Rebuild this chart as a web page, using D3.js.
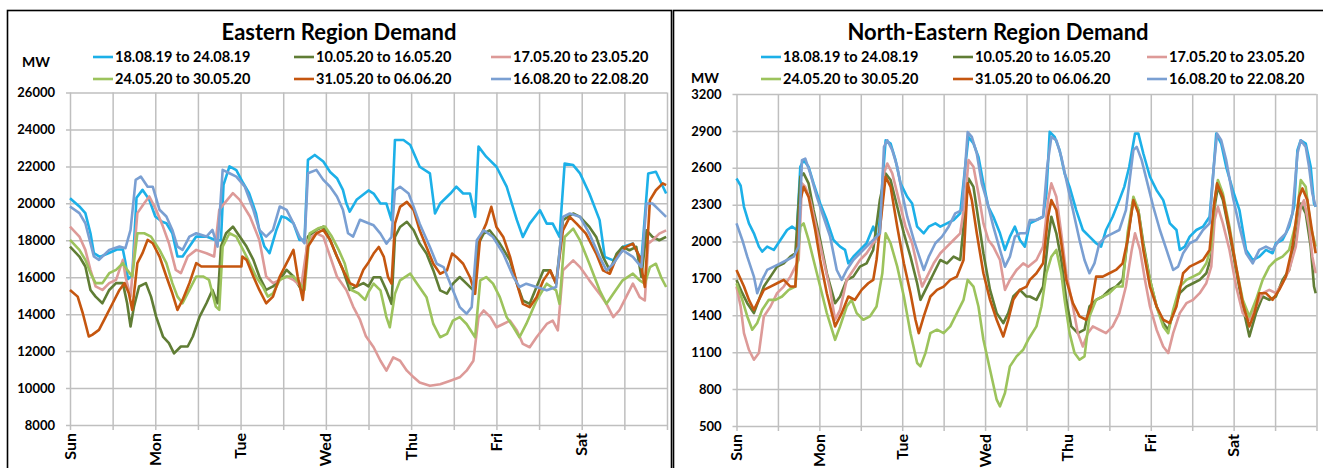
<!DOCTYPE html>
<html><head><meta charset="utf-8">
<script src="https://cdn.jsdelivr.net/npm/d3@7"></script>
<style>
body{margin:0;background:#fff;}
svg{display:block;font-family:Lato,"Open Sans",sans-serif;}
</style></head><body>
<svg id="chart" width="1323" height="468"></svg>
<script>
// ---------- categories / labels ----------
const dayLabels = ["Sun","Mon","Tue","Wed","Thu","Fri","Sat"];
const weekLabels = ["18.08.19 to 24.08.19","10.05.20 to 16.05.20","17.05.20 to 23.05.20",
                    "24.05.20 to 30.05.20","31.05.20 to 06.06.20","16.08.20 to 22.08.20"];
const eastTicks = [8000,10000,12000,14000,16000,18000,20000,22000,24000,26000];
const neTicks = [500,800,1100,1400,1700,2000,2300,2600,2900,3200];

// ---------- Eastern Region series: [day of week, MW] ----------
const east_180819 = [[0,20270],[0.11,19830],[0.18,19470],[0.24,18380],[0.28,17300],[0.35,17100],[0.45,17300],[0.55,17500],[0.62,17500],[0.65,16800],[0.68,15900],[0.73,16100],[0.78,20300],[0.85,20730],[0.93,20190],[1.0,19290],[1.08,19000],[1.13,18920],[1.2,18380],[1.26,17120],[1.32,17120],[1.4,17660],[1.48,18200],[1.6,18200],[1.71,18000],[1.77,18000],[1.8,21000],[1.87,22000],[1.95,21800],[2.03,21100],[2.1,20550],[2.18,19470],[2.22,18560],[2.28,17660],[2.34,17300],[2.42,18560],[2.48,19290],[2.54,19200],[2.62,18920],[2.69,18020],[2.75,18020],[2.79,22350],[2.87,22620],[2.97,22260],[3.05,21700],[3.13,21360],[3.2,20730],[3.24,20000],[3.28,19550],[3.36,20190],[3.5,20700],[3.56,20530],[3.64,19990],[3.71,19990],[3.77,19090],[3.81,23430],[3.91,23430],[3.99,23160],[4.10,21980],[4.22,21620],[4.28,19450],[4.34,19990],[4.46,20530],[4.53,20900],[4.61,20530],[4.69,20530],[4.75,19270],[4.79,23070],[4.88,22525],[5.0,21980],[5.12,20900],[5.24,19090],[5.31,18180],[5.39,18900],[5.51,19630],[5.59,18900],[5.66,18900],[5.74,18180],[5.80,22160],[5.90,22070],[5.98,21620],[6.09,20530],[6.21,19090],[6.27,17100],[6.37,16910],[6.48,17640],[6.60,17820],[6.70,16910],[6.78,21620],[6.87,21710],[6.99,20530]];
const east_100520 = [[0,17660],[0.11,17120],[0.18,16580],[0.24,15310],[0.30,14950],[0.38,14590],[0.46,15310],[0.54,15680],[0.62,15680],[0.67,14590],[0.71,13330],[0.75,14410],[0.81,15500],[0.89,15680],[0.95,14950],[1.01,13870],[1.09,12790],[1.16,12430],[1.22,11880],[1.30,12250],[1.38,12250],[1.44,12790],[1.52,13870],[1.60,14590],[1.67,15310],[1.73,14590],[1.77,17660],[1.83,18380],[1.91,18740],[1.99,18200],[2.07,17660],[2.15,16940],[2.22,16040],[2.30,15310],[2.38,15500],[2.46,15860],[2.54,16400],[2.62,16040],[2.69,15500],[2.73,15130],[2.79,18200],[2.89,18560],[2.97,18740],[3.05,18020],[3.13,17120],[3.20,16400],[3.28,15310],[3.36,15500],[3.44,15680],[3.5,15500],[3.56,16000],[3.64,16000],[3.71,15290],[3.77,14560],[3.81,18180],[3.87,18720],[3.95,19000],[4.03,18540],[4.10,17820],[4.18,17280],[4.26,16370],[4.34,15290],[4.42,15110],[4.49,15650],[4.57,16010],[4.65,15650],[4.73,15290],[4.79,17820],[4.85,18360],[4.92,18540],[5.04,17820],[5.16,16910],[5.24,15650],[5.31,14740],[5.39,14560],[5.47,15470],[5.55,16370],[5.63,16370],[5.70,15650],[5.78,19090],[5.90,19450],[5.98,19270],[6.09,18720],[6.17,18180],[6.25,17100],[6.33,16370],[6.41,17280],[6.48,17640],[6.56,17460],[6.64,17640],[6.70,16010],[6.76,18540],[6.83,18180],[6.91,18000],[6.99,18180]];
const east_170520 = [[0,18740],[0.11,18200],[0.18,17480],[0.24,16400],[0.30,15500],[0.38,15310],[0.46,15680],[0.54,15860],[0.62,16940],[0.65,16040],[0.71,14950],[0.79,19470],[0.87,20000],[0.93,20370],[1.01,19650],[1.09,18740],[1.16,17840],[1.24,16400],[1.30,16220],[1.38,17120],[1.48,17480],[1.60,17300],[1.69,17120],[1.75,19650],[1.81,20000],[1.91,20550],[1.99,20190],[2.11,19290],[2.22,18020],[2.30,16040],[2.38,15680],[2.46,15860],[2.54,16040],[2.62,15860],[2.71,15500],[2.79,18020],[2.89,18380],[2.97,18200],[3.05,17120],[3.13,16040],[3.24,15310],[3.32,14410],[3.40,13700],[3.47,12800],[3.56,12210],[3.64,11480],[3.71,10940],[3.79,11660],[3.87,11480],[3.95,10940],[4.03,10580],[4.10,10300],[4.22,10120],[4.34,10210],[4.46,10400],[4.57,10580],[4.65,10940],[4.73,11480],[4.79,13840],[4.85,14200],[4.93,13840],[5.0,13290],[5.08,13470],[5.16,13650],[5.24,13120],[5.31,12390],[5.39,12210],[5.47,12750],[5.59,13470],[5.66,13650],[5.72,13120],[5.78,16370],[5.90,16910],[5.98,16550],[6.09,15830],[6.21,15100],[6.29,14560],[6.37,13840],[6.44,14200],[6.52,14920],[6.60,15650],[6.68,14920],[6.74,14740],[6.78,17820],[6.83,18000],[6.91,18360],[6.99,18540]];
const east_240520 = [[0,18020],[0.11,17480],[0.18,16940],[0.24,16220],[0.30,15680],[0.38,15680],[0.46,16220],[0.54,16400],[0.62,16760],[0.67,16400],[0.73,16040],[0.79,18380],[0.87,18380],[0.95,18200],[1.05,17480],[1.13,16760],[1.20,15680],[1.26,14950],[1.32,14590],[1.40,15310],[1.48,16040],[1.56,16040],[1.63,15860],[1.71,14410],[1.75,14230],[1.79,17660],[1.87,18380],[1.95,18200],[2.07,17120],[2.18,16040],[2.26,15500],[2.32,14950],[2.38,15130],[2.46,15860],[2.54,16040],[2.62,16040],[2.69,15680],[2.75,15310],[2.81,18380],[2.91,18650],[2.99,18740],[3.07,18200],[3.15,17480],[3.22,16760],[3.30,15310],[3.38,15130],[3.46,14770],[3.5,15200],[3.56,15650],[3.64,15290],[3.71,13840],[3.75,13290],[3.81,15100],[3.87,15830],[3.99,16190],[4.07,15650],[4.18,14920],[4.26,13470],[4.34,12750],[4.42,12930],[4.49,13650],[4.57,13840],[4.65,13470],[4.75,12750],[4.81,15830],[4.88,16010],[4.96,15650],[5.04,14920],[5.12,13840],[5.20,13290],[5.27,12750],[5.35,13470],[5.47,14740],[5.59,15650],[5.70,15290],[5.74,14560],[5.80,18180],[5.90,18630],[5.98,17990],[6.09,16730],[6.21,15290],[6.29,14560],[6.37,15100],[6.48,15830],[6.60,16190],[6.68,15830],[6.74,15650],[6.80,16550],[6.87,16730],[6.93,16010],[6.99,15470]];
const east_310520 = [[0,15310],[0.09,14950],[0.15,14050],[0.22,12790],[0.26,12880],[0.34,13150],[0.42,13870],[0.50,14590],[0.58,15310],[0.64,15680],[0.69,15130],[0.73,14230],[0.79,16760],[0.85,17300],[0.91,18020],[0.97,17840],[1.05,17120],[1.13,16040],[1.20,15130],[1.26,14230],[1.32,14770],[1.40,15680],[1.48,16760],[1.54,16580],[2.01,16580],[2.02,17120],[2.07,16940],[2.15,16040],[2.22,15310],[2.30,14590],[2.38,14950],[2.46,16040],[2.54,16760],[2.62,17480],[2.67,16040],[2.73,14770],[2.79,17660],[2.89,18380],[2.97,18560],[3.05,18020],[3.13,17120],[3.20,16400],[3.28,15680],[3.36,15500],[3.44,16400],[3.5,16800],[3.56,17280],[3.62,17640],[3.68,17100],[3.73,16000],[3.77,15650],[3.81,18900],[3.87,19810],[3.95,20080],[4.03,19630],[4.10,18540],[4.18,17640],[4.26,16730],[4.34,16190],[4.42,16370],[4.48,17280],[4.53,17100],[4.61,16730],[4.69,16000],[4.75,15100],[4.81,18180],[4.88,18900],[4.94,19810],[5.0,18720],[5.08,18180],[5.16,17100],[5.24,15650],[5.31,14560],[5.39,14380],[5.47,14920],[5.55,15830],[5.63,16370],[5.70,15650],[5.78,18540],[5.86,19270],[5.94,18900],[6.05,18360],[6.17,17280],[6.25,16370],[6.33,16190],[6.41,17100],[6.52,17640],[6.60,17820],[6.68,17100],[6.74,15470],[6.80,20170],[6.87,20710],[6.95,21080],[6.99,20990]];
const east_160820 = [[0,19830],[0.11,19470],[0.18,18920],[0.24,17840],[0.28,17120],[0.34,16940],[0.46,17480],[0.58,17660],[0.65,17570],[0.71,18560],[0.77,21270],[0.83,21450],[0.91,20900],[0.97,20900],[1.05,19650],[1.13,19290],[1.20,18560],[1.26,17660],[1.32,17480],[1.40,18200],[1.48,18380],[1.60,18200],[1.67,18560],[1.73,17660],[1.79,21810],[1.87,21630],[1.95,21450],[2.05,20900],[2.15,19650],[2.22,18560],[2.30,18200],[2.38,18560],[2.46,19830],[2.54,19650],[2.62,18920],[2.69,18200],[2.75,17840],[2.79,21630],[2.89,21810],[2.97,21270],[3.05,20900],[3.13,20370],[3.20,19650],[3.26,18380],[3.32,18200],[3.40,19110],[3.5,18920],[3.56,18810],[3.64,18360],[3.71,17820],[3.77,18180],[3.81,20710],[3.87,20900],[3.97,20530],[4.03,19810],[4.10,18900],[4.22,17640],[4.30,16730],[4.38,16550],[4.49,15290],[4.57,14380],[4.65,14020],[4.71,14380],[4.77,18000],[4.85,18540],[4.96,18180],[5.08,17280],[5.20,16010],[5.27,15470],[5.35,15650],[5.47,15470],[5.59,15290],[5.70,15470],[5.78,19270],[5.86,19450],[5.98,19270],[6.09,18360],[6.21,17100],[6.29,16370],[6.37,16730],[6.48,17460],[6.60,17100],[6.70,16550],[6.76,19990],[6.83,19990],[6.91,19630],[6.99,19270]];

// ---------- North-Eastern Region series: [day of week, MW] ----------
const ne_180819 = [[0,2513],[0.05,2455],[0.09,2283],[0.15,2148],[0.21,2067],[0.27,1959],[0.31,1918],[0.37,1959],[0.45,1932],[0.53,2013],[0.61,2094],[0.67,2121],[0.73,2094],[0.77,2608],[0.81,2662],[0.87,2608],[0.93,2473],[1.01,2310],[1.09,2175],[1.17,2013],[1.25,1959],[1.31,1932],[1.35,1823],[1.41,1877],[1.49,1932],[1.57,1986],[1.65,2121],[1.71,2013],[1.76,2473],[1.80,2824],[1.86,2797],[1.92,2662],[1.98,2473],[2.06,2364],[2.12,2310],[2.18,2121],[2.26,2067],[2.32,2121],[2.40,2148],[2.46,2121],[2.54,2148],[2.62,2175],[2.70,2229],[2.76,2608],[2.80,2851],[2.86,2797],[2.92,2689],[2.98,2473],[3.04,2283],[3.10,2202],[3.18,2067],[3.24,1932],[3.30,2040],[3.36,2121],[3.42,2013],[3.48,1959],[3.54,2148],[3.62,2175],[3.70,2202],[3.74,2391],[3.78,2892],[3.84,2851],[3.90,2743],[3.96,2554],[4.02,2445],[4.10,2256],[4.18,2094],[4.26,2040],[4.34,1986],[4.40,1959],[4.46,2094],[4.54,2202],[4.62,2337],[4.68,2445],[4.74,2608],[4.81,2878],[4.85,2878],[4.91,2716],[4.99,2527],[5.07,2418],[5.15,2337],[5.23,2148],[5.31,2094],[5.35,1932],[5.41,1959],[5.47,2040],[5.55,2094],[5.63,2121],[5.71,2202],[5.76,2608],[5.79,2878],[5.85,2797],[5.91,2608],[5.99,2418],[6.07,2256],[6.15,1932],[6.23,1850],[6.31,1877],[6.39,1932],[6.47,1905],[6.51,1986],[6.59,2013],[6.67,2121],[6.73,2283],[6.77,2743],[6.81,2824],[6.87,2797],[6.93,2608],[6.97,2310],[6.99,2283]];
const ne_100520 = [[0,1688],[0.07,1580],[0.13,1499],[0.21,1418],[0.27,1526],[0.33,1634],[0.41,1715],[0.49,1796],[0.57,1823],[0.65,1877],[0.71,1905],[0.77,2527],[0.81,2554],[0.87,2473],[0.93,2256],[1.01,2013],[1.09,1742],[1.19,1499],[1.25,1553],[1.33,1688],[1.41,1715],[1.49,1796],[1.57,1823],[1.65,1932],[1.73,2337],[1.80,2554],[1.86,2500],[1.94,2283],[2.02,2067],[2.10,1877],[2.18,1661],[2.22,1526],[2.30,1634],[2.38,1742],[2.46,1850],[2.54,1823],[2.62,1877],[2.70,1850],[2.76,2256],[2.80,2513],[2.86,2445],[2.92,2175],[2.98,1905],[3.06,1607],[3.14,1418],[3.22,1337],[3.28,1418],[3.34,1553],[3.42,1607],[3.50,1553],[3.54,1553],[3.62,1526],[3.70,1634],[3.76,2013],[3.80,2202],[3.86,2067],[3.92,1850],[3.98,1526],[4.04,1310],[4.12,1255],[4.20,1283],[4.26,1472],[4.34,1526],[4.42,1553],[4.50,1607],[4.58,1634],[4.66,1688],[4.74,2121],[4.79,2337],[4.85,2256],[4.91,1986],[4.99,1688],[5.07,1472],[5.15,1337],[5.21,1283],[5.27,1418],[5.35,1580],[5.43,1634],[5.51,1661],[5.59,1688],[5.67,1742],[5.73,1877],[5.77,2283],[5.81,2445],[5.87,2337],[5.95,2067],[6.03,1769],[6.11,1472],[6.19,1228],[6.27,1418],[6.35,1553],[6.43,1526],[6.51,1553],[6.59,1688],[6.67,1769],[6.75,2013],[6.81,2310],[6.87,2229],[6.93,1959],[6.97,1634],[6.99,1580]];
const ne_170520 = [[0,1634],[0.05,1472],[0.09,1255],[0.15,1120],[0.21,1039],[0.27,1093],[0.33,1391],[0.41,1472],[0.49,1580],[0.57,1634],[0.65,1715],[0.71,1796],[0.75,1850],[0.79,2473],[0.83,2445],[0.89,2337],[0.97,2094],[1.05,1850],[1.13,1607],[1.19,1364],[1.25,1445],[1.33,1688],[1.41,1769],[1.49,1850],[1.57,1905],[1.65,1986],[1.73,2067],[1.78,2554],[1.82,2635],[1.88,2554],[1.96,2337],[2.04,2121],[2.12,1986],[2.20,1742],[2.24,1634],[2.30,1715],[2.38,1823],[2.46,1905],[2.54,1959],[2.62,2013],[2.70,2067],[2.76,2337],[2.80,2662],[2.86,2608],[2.92,2391],[2.98,2148],[3.04,2013],[3.10,1959],[3.18,1850],[3.24,1607],[3.30,1688],[3.38,1769],[3.46,1823],[3.52,1796],[3.62,1850],[3.70,1959],[3.76,2337],[3.80,2473],[3.86,2364],[3.92,2067],[3.98,1742],[4.06,1472],[4.12,1255],[4.18,1147],[4.24,1255],[4.30,1310],[4.38,1283],[4.46,1255],[4.54,1310],[4.62,1418],[4.70,1634],[4.77,1932],[4.81,2067],[4.87,1932],[4.93,1688],[4.99,1472],[5.07,1283],[5.15,1147],[5.21,1093],[5.27,1255],[5.35,1418],[5.43,1499],[5.51,1526],[5.59,1580],[5.67,1661],[5.73,1796],[5.77,2175],[5.81,2283],[5.87,2148],[5.95,1932],[6.03,1634],[6.11,1418],[6.19,1364],[6.27,1472],[6.35,1580],[6.43,1607],[6.51,1580],[6.59,1661],[6.67,1769],[6.75,1959],[6.81,2283],[6.85,2337],[6.91,2121],[6.95,1877],[6.99,1742]];
const ne_240520 = [[0,1661],[0.07,1526],[0.13,1391],[0.19,1283],[0.25,1337],[0.31,1445],[0.39,1526],[0.47,1526],[0.55,1553],[0.63,1607],[0.71,1634],[0.77,2121],[0.81,2148],[0.87,2013],[0.93,1850],[1.01,1634],[1.09,1418],[1.19,1201],[1.25,1310],[1.33,1472],[1.39,1526],[1.45,1418],[1.53,1364],[1.61,1391],[1.69,1472],[1.76,1742],[1.80,2067],[1.86,1986],[1.94,1796],[2.02,1553],[2.10,1255],[2.18,1012],[2.22,985],[2.28,1093],[2.34,1255],[2.42,1283],[2.50,1255],[2.58,1310],[2.66,1418],[2.74,1526],[2.79,1688],[2.86,1634],[2.92,1472],[2.98,1201],[3.06,958],[3.14,714],[3.18,660],[3.24,769],[3.30,985],[3.38,1066],[3.46,1120],[3.52,1201],[3.62,1310],[3.68,1472],[3.74,1742],[3.80,1877],[3.86,1932],[3.92,1742],[3.96,1526],[4.02,1255],[4.08,1093],[4.14,1039],[4.20,1066],[4.26,1391],[4.34,1526],[4.42,1553],[4.50,1580],[4.58,1634],[4.66,1634],[4.72,2067],[4.79,2364],[4.85,2256],[4.91,1959],[4.99,1688],[5.07,1472],[5.15,1310],[5.21,1255],[5.27,1445],[5.35,1634],[5.43,1688],[5.51,1715],[5.59,1742],[5.67,1823],[5.73,1959],[5.77,2337],[5.81,2500],[5.87,2391],[5.95,2121],[6.03,1796],[6.11,1526],[6.19,1391],[6.27,1526],[6.35,1688],[6.43,1796],[6.51,1850],[6.59,1877],[6.67,1932],[6.75,2148],[6.81,2500],[6.87,2445],[6.93,2121],[6.99,1959]];
const ne_310520 = [[0,1769],[0.09,1634],[0.15,1526],[0.21,1445],[0.27,1526],[0.33,1607],[0.41,1634],[0.49,1661],[0.57,1688],[0.65,1634],[0.71,1634],[0.77,2337],[0.81,2445],[0.87,2364],[0.95,2094],[1.01,1850],[1.09,1580],[1.19,1310],[1.27,1418],[1.35,1553],[1.43,1526],[1.51,1607],[1.59,1661],[1.65,1688],[1.69,1850],[1.76,2283],[1.80,2527],[1.86,2445],[1.94,2121],[2.02,1823],[2.10,1580],[2.16,1364],[2.20,1255],[2.26,1391],[2.34,1553],[2.42,1607],[2.50,1634],[2.58,1688],[2.66,1715],[2.74,1850],[2.79,2473],[2.84,2337],[2.90,2067],[2.98,1742],[3.06,1526],[3.14,1364],[3.22,1228],[3.28,1364],[3.34,1526],[3.42,1607],[3.50,1634],[3.54,1688],[3.62,1742],[3.70,1823],[3.76,2202],[3.80,2337],[3.86,2256],[3.92,1986],[3.98,1688],[4.06,1499],[4.14,1391],[4.22,1364],[4.28,1472],[4.34,1715],[4.42,1715],[4.50,1742],[4.58,1769],[4.66,1823],[4.72,2013],[4.79,2337],[4.85,2229],[4.91,1932],[4.99,1634],[5.07,1472],[5.15,1364],[5.23,1337],[5.31,1472],[5.39,1742],[5.47,1796],[5.55,1823],[5.63,1850],[5.71,1932],[5.76,2283],[5.80,2473],[5.87,2364],[5.95,2094],[6.03,1796],[6.11,1499],[6.19,1310],[6.25,1418],[6.31,1580],[6.39,1580],[6.47,1526],[6.55,1607],[6.63,1715],[6.71,1959],[6.79,2364],[6.83,2432],[6.89,2337],[6.95,2067],[6.99,1905]];
const ne_160820 = [[0,2148],[0.07,2013],[0.13,1877],[0.21,1715],[0.25,1580],[0.31,1688],[0.37,1769],[0.45,1796],[0.53,1823],[0.61,1850],[0.69,1877],[0.75,1959],[0.79,2662],[0.83,2675],[0.89,2554],[0.97,2364],[1.05,2202],[1.13,2040],[1.21,1769],[1.27,1688],[1.33,1769],[1.41,1850],[1.49,1905],[1.57,1959],[1.65,2013],[1.73,2067],[1.78,2770],[1.82,2824],[1.88,2743],[1.94,2608],[2.0,2391],[2.06,2202],[2.14,2013],[2.22,1850],[2.26,1769],[2.32,1877],[2.40,1986],[2.48,2040],[2.56,2121],[2.64,2229],[2.72,2256],[2.76,2608],[2.79,2890],[2.84,2851],[2.90,2716],[2.96,2473],[3.02,2337],[3.10,2121],[3.18,1932],[3.24,1796],[3.30,1877],[3.36,2040],[3.42,2067],[3.50,2067],[3.54,2175],[3.62,2175],[3.70,2202],[3.75,2608],[3.80,2851],[3.86,2824],[3.92,2689],[3.98,2500],[4.06,2256],[4.14,2013],[4.20,1850],[4.26,1742],[4.32,1823],[4.38,1986],[4.46,2040],[4.54,2067],[4.62,2094],[4.70,2256],[4.79,2743],[4.83,2770],[4.89,2662],[4.95,2500],[5.03,2283],[5.11,2094],[5.19,1932],[5.27,1769],[5.33,1796],[5.39,1905],[5.47,1986],[5.55,2013],[5.63,2094],[5.71,2148],[5.76,2608],[5.80,2878],[5.85,2824],[5.91,2662],[5.99,2364],[6.07,2121],[6.15,1905],[6.23,1823],[6.31,1932],[6.39,1959],[6.47,1932],[6.55,2013],[6.63,2067],[6.71,2229],[6.77,2716],[6.81,2824],[6.87,2770],[6.91,2608],[6.95,2391],[6.99,2283]];

// ---------- styling (not data) ----------
const colors = ["#1cb0e8","#607d35","#dd9a98","#9cc35c","#c5560f","#7a9fd2"];

const charts = [
  {title:"Eastern Region Demand", series:[east_180819,east_100520,east_170520,east_240520,east_310520,east_160820],
   ticks:eastTicks, x0:70, x1:667, yTop:92.5, yBot:425, titleX:339,
   legX:[93,294,491], mwX:36, mwY:62, panel:[7.5,10.5,664]},
  {title:"North-Eastern Region Demand", series:[ne_180819,ne_100520,ne_170520,ne_240520,ne_310520,ne_160820],
   ticks:neTicks, x0:736.5, x1:1316.5, yTop:94, yBot:426, titleX:998,
   legX:[761,953,1147], mwX:705, mwY:78, panel:[673.5,10.5,660]}
];

const svg = d3.select("#chart");
const halfDays = d3.range(0, 7.01, 0.5);

charts.forEach(c => {
  // panel frame
  svg.append("rect").attr("x",c.panel[0]).attr("y",c.panel[1]).attr("width",c.panel[2]).attr("height",480)
     .attr("fill","#fff").attr("stroke","#000").attr("stroke-width",1.6);

  const x = d3.scaleLinear().domain([0,7]).range([c.x0,c.x1]);
  const y = d3.scaleLinear().domain(d3.extent(c.ticks)).range([c.yBot,c.yTop]);
  const g = svg.append("g");

  // horizontal grid + y axis
  const yAxis = d3.axisLeft(y).tickValues(c.ticks).tickSizeInner(-(c.x1-c.x0)-4).tickSizeOuter(0).tickPadding(0).tickFormat("");
  const yg = g.append("g").attr("transform",`translate(${c.x1},0)`).call(d3.axisLeft(y).tickValues(c.ticks).tickSize(c.x1-c.x0+4).tickFormat(""));
  yg.select(".domain").remove();
  yg.selectAll("line").attr("stroke","#bfbfbf").attr("stroke-width",1.5);
  // y labels
  g.selectAll(".ylab").data(c.ticks).enter().append("text")
    .attr("x",c.x0-15).attr("y",d=>y(d)).attr("dy","0.36em").attr("text-anchor","end")
    .attr("font-size",13).attr("font-weight","bold").attr("fill","#000").text(d=>d);

  // vertical grid + x ticks
  const xg = g.append("g").attr("transform",`translate(0,${c.yBot+5})`)
     .call(d3.axisTop(x).tickValues(halfDays).tickSize(c.yBot-c.yTop+5).tickFormat(""));
  xg.select(".domain").remove();
  xg.selectAll("line").attr("stroke","#bfbfbf").attr("stroke-width",1.5);

  // x labels (rotated)
  g.selectAll(".xlab").data(dayLabels).enter().append("text")
    .attr("transform",(d,i)=>`translate(${x(i)+5.5},${c.yBot+8}) rotate(-90)`)
    .attr("text-anchor","end").attr("font-size",16).attr("font-weight","bold").attr("fill","#000").text(d=>d);

  // lines
  const line = d3.line().x(d=>x(d[0])).y(d=>y(d[1]));
  c.series.forEach((s,i)=>{
    g.append("path").datum(s).attr("d",line).attr("fill","none")
     .attr("stroke",colors[i]).attr("stroke-width",2.6).attr("stroke-linejoin","round");
  });

  // title
  svg.append("text").attr("x",c.titleX).attr("y",40).attr("text-anchor","middle")
    .attr("font-size",22).attr("font-weight","bold").attr("fill","#000").text(c.title);
  // MW
  svg.append("text").attr("x",c.mwX).attr("y",c.mwY).attr("dy","0.36em").attr("text-anchor","middle")
    .attr("font-size",14).attr("font-weight","bold").attr("fill","#000").text("MW");
  // legend
  weekLabels.forEach((w,i)=>{
    const col = i%3, row = Math.floor(i/3);
    const lx = c.legX[col], ly = row===0?57:79;
    svg.append("line").attr("x1",lx).attr("x2",lx+20).attr("y1",ly).attr("y2",ly)
       .attr("stroke",colors[i]).attr("stroke-width",2.6);
    svg.append("text").attr("x",lx+22).attr("y",ly).attr("dy","0.36em")
       .attr("font-size",14.5).attr("font-weight","bold").attr("fill","#000").text(w);
  });
});
</script>
</body></html>
